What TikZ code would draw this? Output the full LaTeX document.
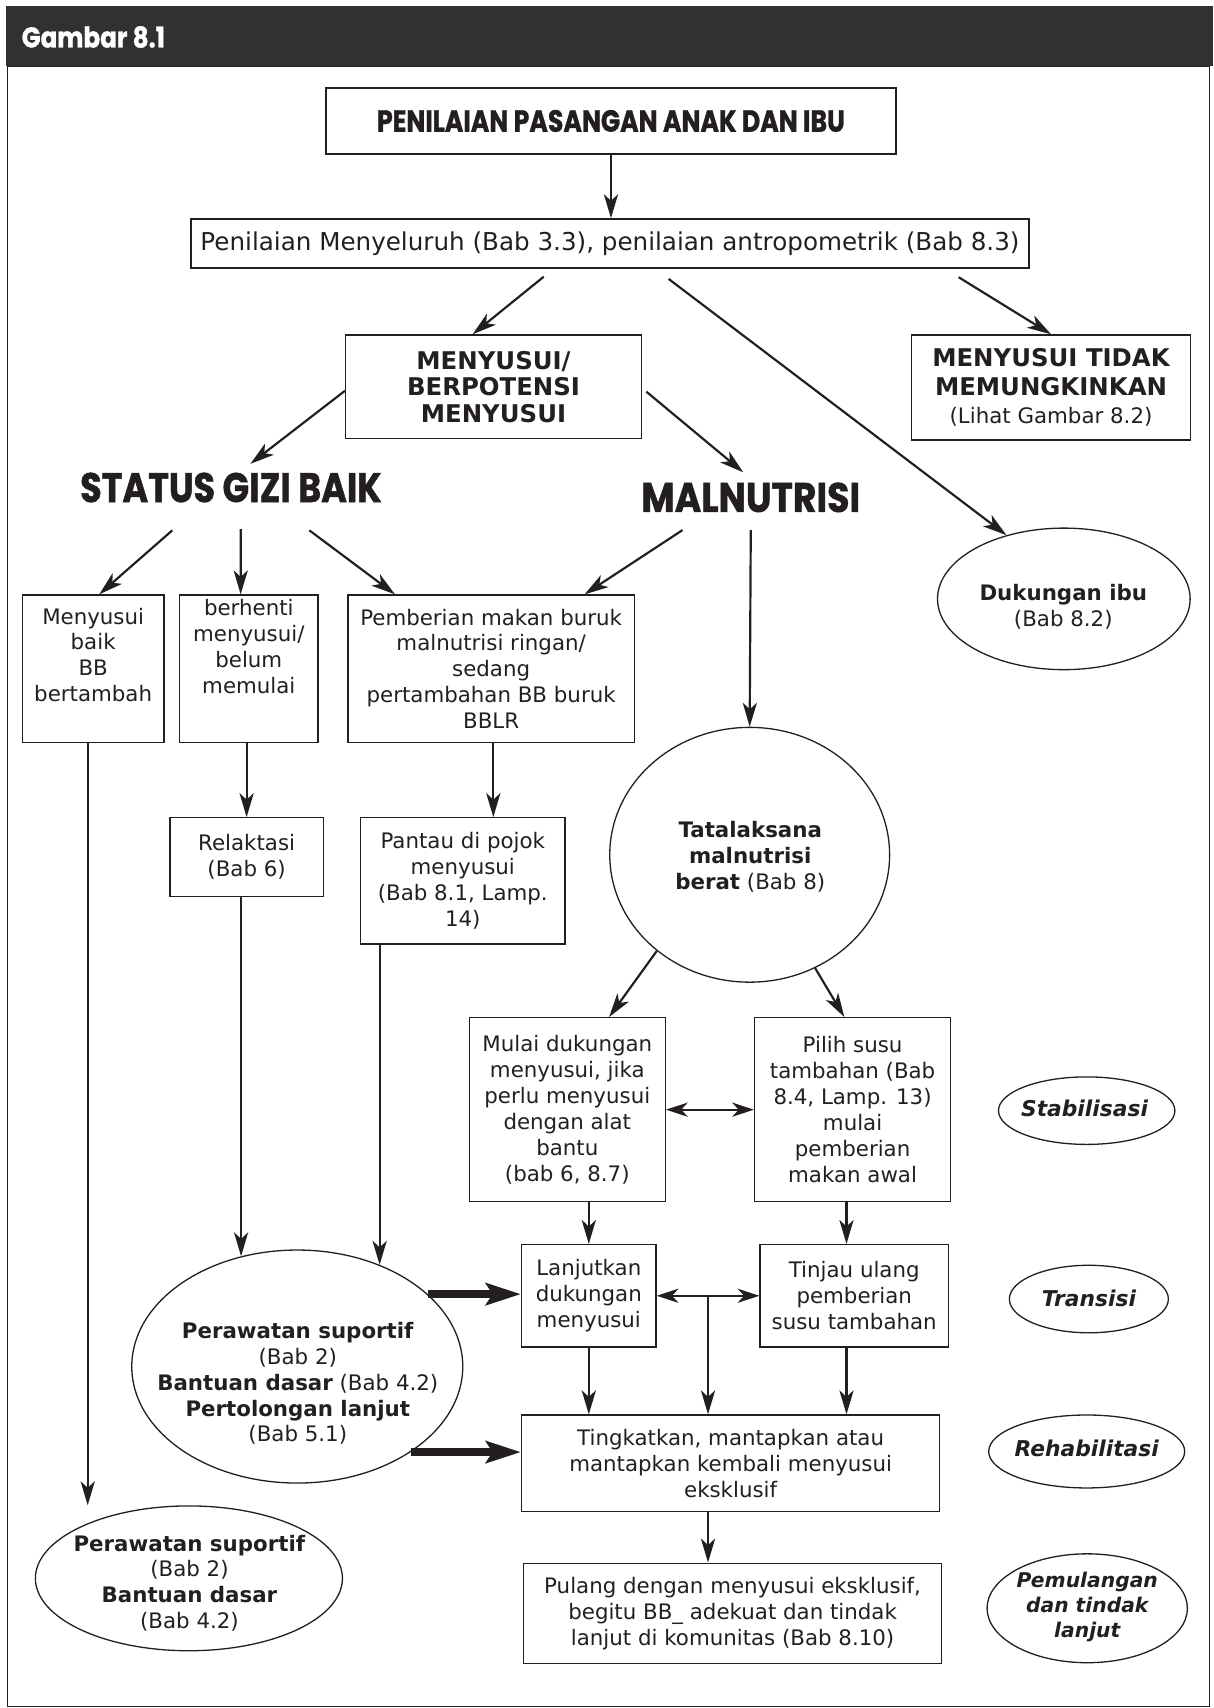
\documentclass[tikz,border=0pt]{standalone}
\usepackage{fontspec}
\usepackage{graphicx}
\setmainfont{DejaVu Sans}
\newfontfamily\headfont{Poppins}[BoldFeatures={FakeBold=1.2}]
\usetikzlibrary{arrows.meta,calc,shapes.geometric}
\definecolor{ink}{RGB}{35,31,32}
\definecolor{hdr}{RGB}{51,48,51}
\newcommand\bodyfs{\fontsize{9.8}{11.9}\selectfont}
\begin{document}
\begin{tikzpicture}[x=0.5pt,y=-0.5pt,
  box/.style={draw=ink,line width=0.6pt,rectangle,inner sep=0pt,align=center,font=\bodyfs,text=ink},
  oval/.style={draw=ink,line width=0.6pt,ellipse,inner sep=0pt},
  txt/.style={align=center,inner sep=0pt,font=\bodyfs,text=ink},
  lbl/.style={align=center,inner sep=0pt,text=ink,font=\fontsize{10}{11.8}\selectfont\bfseries\itshape},
  arr/.style={draw=ink,line width=1pt,-{Stealth[length=11pt,width=6.5pt,inset=3pt]}},
  darr/.style={draw=ink,line width=1pt,{Stealth[length=10pt,width=6.5pt,inset=3pt]}-{Stealth[length=10pt,width=6.5pt,inset=3pt]}},
  fat/.style={draw=ink,line width=4pt,-{Stealth[length=16pt,width=10pt,inset=3pt]}},
  head/.style={inner sep=0pt,text=ink}
]
\useasboundingbox (0,0) rectangle (1114,1568.6);
\fill[hdr] (5.5,5.5) rectangle (1114,61);
\draw[ink,line width=0.6pt] (6.7,61) rectangle (1111,1567.5);
\node[head,text=white] (hd) at (85.75,34) {\resizebox{65.7pt}{9.8pt}{\headfont\bfseries Gambar 8.1}};

% nodes
\node[box,minimum width=261.7pt,minimum height=30.3pt] (top) at (561.1,111.1) {\resizebox{214.8pt}{10pt}{\headfont\bfseries PENILAIAN PASANGAN ANAK DAN IBU}};
\node[box,minimum width=384.8pt,minimum height=22.5pt,font=\fontsize{11.3}{13}\selectfont] (assess) at (560.2,223.5) {Penilaian Menyeluruh (Bab 3.3), penilaian antropometrik (Bab 8.3)};
\node[box,minimum width=135.75pt,minimum height=47.7pt,font=\fontsize{11.2}{12.2}\selectfont\bfseries] (meny) at (453.25,355.3) {MENYUSUI/\\BERPOTENSI\\MENYUSUI};
\node[box,minimum width=128.25pt,minimum height=48.2pt,font=\fontsize{9.8}{13}\selectfont] (tidak) at (965.25,355.8) {{\fontsize{11.2}{13}\selectfont\bfseries MENYUSUI TIDAK}\\{\fontsize{11.2}{13}\selectfont\bfseries MEMUNGKINKAN}\\(Lihat Gambar 8.2)};
\node[oval,minimum width=116pt,minimum height=65pt] (dukung) at (977,550) {};
\node[txt] (dukungt) at (976.5,557) {\textbf{Dukungan ibu}\\(Bab 8.2)};
\node[head] (sgb) at (212.1,447.7) {\resizebox{138.4pt}{13.5pt}{\headfont\bfseries STATUS GIZI BAIK}};
\node[head] (mal) at (689.5,456.8) {\resizebox{100.5pt}{13.5pt}{\headfont\bfseries MALNUTRISI}};

\node[box,minimum width=64.95pt,minimum height=67.8pt] (b1) at (85.55,614.2) {};
\node[txt] (b1t) at (85.55,601.5) {Menyusui\\baik\\BB\\bertambah};
\node[box,minimum width=63.5pt,minimum height=67.8pt] (b2) at (228.5,614.2) {};
\node[txt] (b2t) at (228.5,594) {berhenti\\menyusui/\\belum\\memulai};
\node[box,minimum width=131.45pt,minimum height=67.8pt] (b3) at (451.05,614.2) {Pemberian makan buruk\\malnutrisi ringan/\\sedang\\pertambahan BB buruk\\BBLR};

\node[box,minimum width=70.5pt,minimum height=36.25pt] (relak) at (226.5,787.25) {Relaktasi\\(Bab 6)};
\node[box,minimum width=94pt,minimum height=58pt] (pantau) at (425,809) {Pantau di pojok\\menyusui\\(Bab 8.1, Lamp.\\14)};
\node[oval,minimum width=128.5pt,minimum height=117pt] (tat) at (688.5,785) {};
\node[txt] (tatt) at (689,787) {\textbf{Tatalaksana}\\\textbf{malnutrisi}\\\textbf{berat} (Bab 8)};

\node[box,minimum width=90pt,minimum height=84.5pt] (mulai) at (521,1019.1) {Mulai dukungan\\menyusui, jika\\perlu menyusui\\dengan alat\\bantu\\(bab 6, 8.7)};
\node[box,minimum width=90pt,minimum height=84.5pt] (pilih) at (783,1019.1) {Pilih susu\\tambahan (Bab\\8.4, Lamp. 13)\\mulai\\pemberian\\makan awal};
\node[oval,minimum width=81pt,minimum height=31pt] (stab) at (998,1020) {};
\node[lbl] (stabt) at (996,1018) {Stabilisasi};

\node[box,minimum width=61.75pt,minimum height=47pt] (lanj) at (540.75,1190) {Lanjutkan\\dukungan\\menyusui};
\node[box,minimum width=86.5pt,minimum height=47pt] (tinjau) at (784.5,1190) {Tinjau ulang\\pemberian\\susu tambahan};
\node[oval,minimum width=73pt,minimum height=31pt] (trans) at (1000,1193) {};
\node[lbl] (transt) at (1000,1192.3) {Transisi};

\node[oval,minimum width=152pt,minimum height=107pt] (p1) at (273,1255) {};
\node[txt] (p1t) at (273.5,1270.5) {\textbf{Perawatan suportif}\\(Bab 2)\\\textbf{Bantuan dasar} (Bab 4.2)\\\textbf{Pertolongan lanjut}\\(Bab 5.1)};

\node[box,minimum width=192pt,minimum height=44.25pt] (tingk) at (671,1343.75) {Tingkatkan, mantapkan atau\\mantapkan kembali menyusui\\eksklusif};
\node[oval,minimum width=90pt,minimum height=33.5pt] (rehab) at (998,1333) {};
\node[lbl] (rehabt) at (998,1330) {Rehabilitasi};

\node[box,minimum width=191.8pt,minimum height=45.95pt] (pulang) at (672.8,1481.55) {Pulang dengan menyusui eksklusif,\\begitu BB\_ adekuat dan tindak\\lanjut di komunitas (Bab 8.10)};
\node[oval,minimum width=92pt,minimum height=50pt] (pemul) at (998.5,1477) {};
\node[lbl,font=\fontsize{9.3}{11.6}\selectfont\bfseries\itshape] (pemult) at (998.5,1476) {Pemulangan\\dan tindak\\lanjut};

\node[oval,minimum width=141pt,minimum height=66.5pt] (p2) at (173.5,1449.5) {};
\node[txt] (p2t) at (174,1454) {\textbf{Perawatan suportif}\\(Bab 2)\\\textbf{Bantuan dasar}\\(Bab 4.2)};

% helper coordinates
\coordinate (b1o) at ($(b1.south)+(-5,0)$);
\coordinate (b3o) at ($(b3.south)+(2,0)$);
\coordinate (po) at ($(tinjau.north west)+(80,0)$);
\coordinate (junc) at ($(lanj.east)!0.5!(tinjau.west)$);

% connectors
\draw[arr] (top.south) -- (top.south |- assess.north);
\draw[arr] ($(assess.south west)+(324.6,7.5)$) -- ($(meny.north west)+(117.2,0)$);
\draw[arr] ($(assess.south west)+(439.3,9.6)$) -- (dukung.132);
\draw[arr] ($(assess.south west)+(705.6,8)$) -- (tidak.north);
\draw[arr] ($(meny.west)+(0,3.5)$) -- ($(sgb.north west)+(156.7,-7.7)$);
\draw[arr] ($(meny.east)+(4,4.4)$) -- ($(mal.north west)+(94,-9)$);
\draw[arr] ($(sgb.south west)+(85,25.3)$) -- ($(b1.north)+(5.6,0)$);
\draw[arr] ($(sgb.south west)+(147.9,24.3)$) -- ($(b2.north west)+(56.6,0)$);
\draw[arr] ($(sgb.south west)+(210.8,25.3)$) -- ($(b3.north west)+(43.7,0)$);
\draw[arr] ($(mal.south west)+(38.2,16)$) -- ($(b3.north west)+(217.9,0)$);
\draw[arr] ($(mal.south)+(0,16)$) -- (tat.north);

\draw[arr] (b1o) -- (b1o |- p2.north);
\draw[arr] (relak.north |- b2.south) -- (relak.north);
\draw[arr] (relak.south -| p1.117) -- (p1.117);
\draw[arr] (b3o) -- (b3o |- pantau.north);
\draw[arr] (pantau.south -| p1.51) -- (p1.51);

\draw[arr] (tat.226) -- ($(mulai.north west)+(129,0)$);
\draw[arr] (tat.300) -- ($(pilih.north west)+(83,0)$);
\draw[darr] (mulai.east) -- (pilih.west);
\draw[arr] (lanj.north |- mulai.south) -- (lanj.north);
\draw[arr] (po |- pilih.south) -- (po);
\draw[darr] (lanj.east) -- (tinjau.west);
\draw[arr] (junc) -- (junc |- tingk.north);
\draw[arr] (lanj.south) -- (lanj.south |- tingk.north);
\draw[arr] (po |- tinjau.south) -- (po |- tingk.north);
\draw[fat] (p1.29) -- (p1.29 -| lanj.west);
\draw[fat] (p1.323) -- (p1.323 -| tingk.west);
\draw[arr] (junc |- tingk.south) -- (junc |- pulang.north);
\end{tikzpicture}
\end{document}
